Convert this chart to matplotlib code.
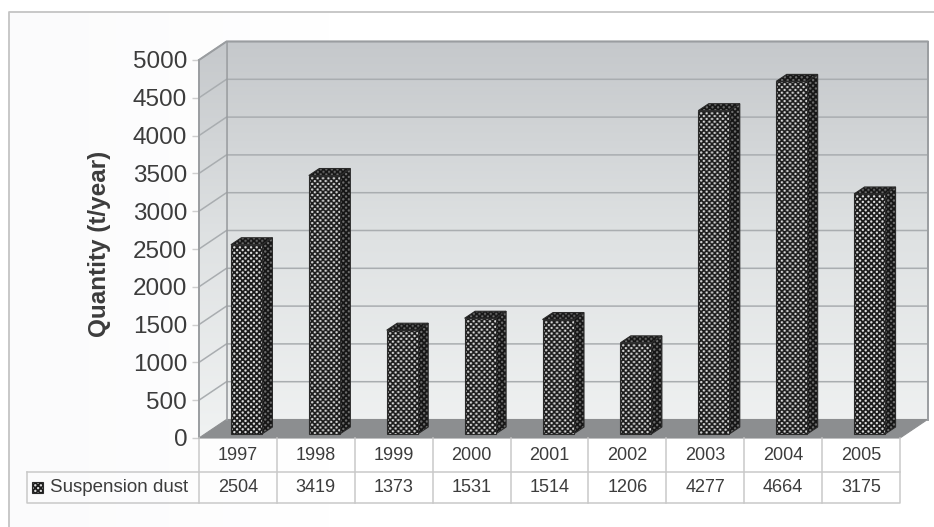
"""Annual suspension dust quantity as a pseudo-3D column chart with data table."""

import matplotlib

matplotlib.use("Agg")

import matplotlib.pyplot as plt
import numpy as np
from matplotlib.colors import LinearSegmentedColormap
from matplotlib.patches import Polygon

plt.rcParams["font.family"] = ["Liberation Sans", "DejaVu Sans"]

years = ["1997", "1998", "1999", "2000", "2001", "2002", "2003", "2004", "2005"]
dust = [2504, 3419, 1373, 1531, 1514, 1206, 4277, 4664, 3175]
y_ticks = [0, 500, 1000, 1500, 2000, 2500, 3000, 3500, 4000, 4500, 5000]
series_name = "Suspension dust"
y_label = "Quantity (t/year)"

W, H = 934, 527
TEXT = "#3c3c3c"
GRID = "#a9adb0"
EDGE = "#9a9da0"
TABLE_LINE = "#c9c9c9"

# Front plane of the plot box in pixels
LEFT, RIGHT, BOTTOM, TOP = 199, 900, 438, 60
n = len(years)

fig = plt.figure(figsize=(W / 100, H / 100), dpi=100, facecolor="white")

# Page background and outer frame
bg = fig.add_axes([0, 0, 1, 1], zorder=0)
bg_cmap = LinearSegmentedColormap.from_list("bg", ["#fbfbfc", "#ffffff"])
bg.imshow(np.linspace(0, 1, 256)[None, :], cmap=bg_cmap, aspect="auto",
          extent=(9, 330, H, 13), zorder=0)
bg.set_xlim(0, W)
bg.set_ylim(H, 0)
bg.axis("off")
bg.plot([9, 9, W], [H, 12, 12], color="#c4c4c4", lw=1.3, zorder=1)

ax = fig.add_axes([LEFT / W, 1 - BOTTOM / H, (RIGHT - LEFT) / W, (BOTTOM - TOP) / H],
                  zorder=1)
ax.patch.set_alpha(0)
for side in ax.spines.values():
    side.set_visible(False)

# Depth of the box and of the columns, in data units
px_x = n / (RIGHT - LEFT)
px_y = 5000 / (BOTTOM - TOP)
DX, DY = 27.5 * px_x, 18.5 * px_y
BAR_W = 31 * px_x
BAR_DX, BAR_DY = 10.5 * px_x, 7 * px_y
BAR_SHIFT = 8.5 * px_x
BAR_BASE = 4 * px_y

wall_cmap = LinearSegmentedColormap.from_list(
    "wall", ["#f0f2f2", "#dfe2e3", "#c5c8cb"])


def clip_to(img, points, zorder):
    """Clip an image to a polygon that may reach outside the axes box."""
    poly = Polygon(points, closed=True, facecolor="none", edgecolor="none",
                   zorder=zorder, clip_on=False)
    ax.add_patch(poly)
    img.set_clip_box(fig.bbox)
    img.set_clip_path(poly)


def gradient_face(points, zorder):
    """Fill a polygon with the vertical wall gradient."""
    xs = [p[0] for p in points]
    img = ax.imshow(np.linspace(1, 0, 256)[:, None], cmap=wall_cmap, aspect="auto",
                    extent=(min(xs), max(xs), 0, 5000 + DY), zorder=zorder)
    clip_to(img, points, zorder)


def dot_texture(width_px, height_px, dark, light):
    """Build an RGB tile of staggered round dots."""
    period, radius = 5.6, 1.15
    yy, xx = np.mgrid[0:int(height_px) + 1, 0:int(width_px) + 1]
    u = xx % period - period / 2
    v = yy % period - period / 2
    u2 = (xx + period / 2) % period - period / 2
    v2 = (yy + period / 2) % period - period / 2
    dist = np.minimum(np.hypot(u, v), np.hypot(u2, v2))
    mix = np.clip(radius + 0.5 - dist, 0, 1)[..., None]
    return np.array(dark) * (1 - mix) + np.array(light) * mix


def dotted_face(points, dark, light, zorder):
    """Fill a polygon with the dot texture and outline it."""
    xs = [p[0] for p in points]
    ys = [p[1] for p in points]
    tile = dot_texture((max(xs) - min(xs)) / px_x, (max(ys) - min(ys)) / px_y, dark, light)
    img = ax.imshow(tile, aspect="auto", interpolation="bilinear", origin="upper",
                    extent=(min(xs), max(xs), min(ys), max(ys)), zorder=zorder)
    clip_to(img, points, zorder)
    ax.add_patch(Polygon(points, closed=True, facecolor="none", edgecolor="#2a2a2a",
                         lw=0.8, zorder=zorder + 0.1, clip_on=False))


gradient_face([(DX, DY), (n + DX, DY), (n + DX, 5000 + DY), (DX, 5000 + DY)], 1)
gradient_face([(0, 0), (DX, DY), (DX, 5000 + DY), (0, 5000)], 1)

# Floor
ax.add_patch(Polygon([(0, 0), (n, 0), (n + DX, DY), (DX, DY)], closed=True,
                     facecolor="#8c8e90", edgecolor="#8c8e90", lw=0.8, zorder=2,
                     clip_on=False))

# Gridlines run along the side wall and across the back wall
for v in y_ticks[1:]:
    ax.plot([0, DX, n + DX], [v, v + DY, v + DY], color=GRID, lw=1.1, zorder=2,
            clip_on=False)
ax.plot([0, 0], [0, 5000], color=EDGE, lw=1.4, zorder=3, clip_on=False)
ax.plot([DX, DX], [DY, 5000 + DY], color=EDGE, lw=1.2, zorder=2, clip_on=False)
ax.plot([n + DX, n + DX], [DY, 5000 + DY], color=EDGE, lw=1.4, zorder=2, clip_on=False)
ax.plot([0, DX, n + DX], [5000, 5000 + DY, 5000 + DY], color=EDGE, lw=1.4, zorder=2,
        clip_on=False)

# Columns: front, side and top faces, each with a dotted fill
FRONT_DOTS = ((0.11, 0.11, 0.11), (0.86, 0.86, 0.86))
SHADE_DOTS = ((0.09, 0.09, 0.09), (0.42, 0.42, 0.42))
for i, value in enumerate(dust):
    x0 = i + 0.5 - BAR_W / 2 + BAR_SHIFT
    x1 = x0 + BAR_W
    top = BAR_BASE + value
    dotted_face([(x1, BAR_BASE), (x1 + BAR_DX, BAR_BASE + BAR_DY),
                 (x1 + BAR_DX, top + BAR_DY), (x1, top)], *SHADE_DOTS, 4)
    dotted_face([(x0, top), (x1, top), (x1 + BAR_DX, top + BAR_DY),
                 (x0 + BAR_DX, top + BAR_DY)], *SHADE_DOTS, 4)
    dotted_face([(x0, BAR_BASE), (x1, BAR_BASE), (x1, top), (x0, top)], *FRONT_DOTS, 5)

ax.set_xlim(0, n)
ax.set_ylim(0, 5000)

# Value axis
ax.set_yticks(y_ticks)
ax.set_xticks([])
ax.tick_params(axis="y", length=5, width=1, color="#cfcfcf", labelcolor=TEXT,
               labelsize=17.5, pad=3.5)
ax.set_ylabel(y_label, fontsize=17.5, fontweight="bold", color=TEXT)
ax.yaxis.set_label_coords(-0.126, 0.513)

# Data table under the plot
ROW1, ROW2, LEGEND_LEFT = 34, 65, 27
y1, y2 = -ROW1 * px_y, -ROW2 * px_y
x_left = -(LEFT - LEGEND_LEFT) * px_x
line_kw = dict(color=TABLE_LINE, lw=1.1, zorder=3, clip_on=False)
ax.plot([x_left, x_left, n, n], [y1, y2, y2, 0], **line_kw)
ax.plot([x_left, n], [y1, y1], **line_kw)
for i in range(n):
    ax.plot([i, i], [0, y2], **line_kw)
    ax.text(i + 0.5, y1 / 2, years[i], ha="center", va="center", fontsize=13,
            color=TEXT, clip_on=False)
    ax.text(i + 0.5, (y1 + y2) / 2, str(dust[i]), ha="center", va="center",
            fontsize=13, color=TEXT, clip_on=False)

# Legend key in the first table cell
key_y = (y1 + y2) / 2
key = [(x_left + 5 * px_x, key_y - 5.5 * px_y), (x_left + 16 * px_x, key_y - 5.5 * px_y),
       (x_left + 16 * px_x, key_y + 5.5 * px_y), (x_left + 5 * px_x, key_y + 5.5 * px_y)]
dotted_face(key, *FRONT_DOTS, 4)
ax.text(x_left + 23 * px_x, key_y, series_name, ha="left", va="center",
        fontsize=13.5, color=TEXT, clip_on=False)

ax.set_xlim(0, n)
ax.set_ylim(0, 5000)

fig.savefig("out.png", dpi=100)
